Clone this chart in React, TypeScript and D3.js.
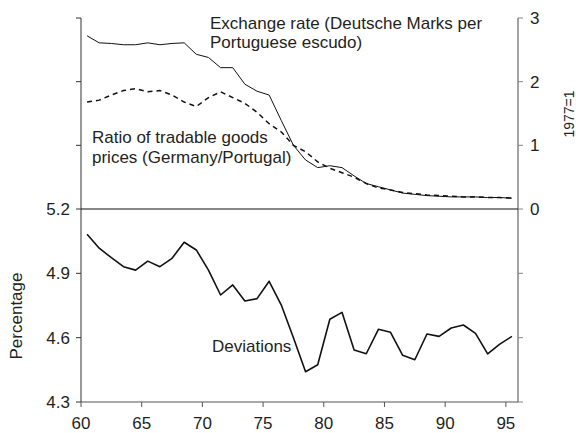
import React from "react";
import * as d3 from "d3";

const years = [60, 61, 62, 63, 64, 65, 66, 67, 68, 69, 70, 71, 72, 73, 74, 75, 76, 77, 78, 79, 80, 81, 82, 83, 84, 85, 86, 87, 88, 89, 90, 91, 92, 93, 94, 95];

const exchangeRate = [2.72, 2.61, 2.6, 2.58, 2.58, 2.61, 2.58, 2.6, 2.61, 2.43, 2.38, 2.22, 2.22, 1.96, 1.85, 1.79, 1.39, 1.0, 0.77, 0.65, 0.68, 0.65, 0.52, 0.4, 0.35, 0.3, 0.25, 0.23, 0.21, 0.2, 0.19, 0.19, 0.19, 0.18, 0.18, 0.17];

const priceRatio = [1.68, 1.71, 1.79, 1.86, 1.89, 1.84, 1.86, 1.79, 1.68, 1.61, 1.75, 1.84, 1.75, 1.66, 1.52, 1.34, 1.21, 1.0, 0.9, 0.74, 0.64, 0.57, 0.5, 0.4, 0.33, 0.3, 0.26, 0.24, 0.22, 0.21, 0.2, 0.19, 0.19, 0.18, 0.18, 0.17];

const deviations = [5.082, 5.017, 4.973, 4.931, 4.915, 4.957, 4.931, 4.97, 5.045, 5.009, 4.915, 4.799, 4.846, 4.771, 4.782, 4.863, 4.752, 4.6, 4.441, 4.474, 4.686, 4.718, 4.542, 4.525, 4.639, 4.625, 4.518, 4.497, 4.617, 4.606, 4.645, 4.659, 4.62, 4.524, 4.57, 4.606];

const xTicks = [60, 65, 70, 75, 80, 85, 90, 95];
const leftTicksTop = [3, 2, 1];
const leftTicksBottom = [5.2, 4.9, 4.6, 4.3];
const leftTickLabelsBottom = ["5.2", "4.9", "4.6", "4.3"];
const rightTicksTop = [3, 2, 1, 0];
const rightTickLabelsTop = ["3", "2", "1", "0"];
const rightTicksBottom = [4.9, 4.6, 4.3];

const FONT = "'Liberation Sans', Arial, Helvetica, sans-serif";

export default function App() {
  const W = 576;
  const H = 433;
  const left = 81;
  const right = 518;
  const x = d3.scaleLinear().domain([60, 96]).range([left, right]);
  const yTop = d3.scaleLinear().domain([0, 3]).range([209, 18]);
  const yBot = d3.scaleLinear().domain([4.3, 5.2]).range([402, 209]);

  const lineTop = d3
    .line<number>()
    .x((_, i) => x(years[i] + 0.5))
    .y((d) => yTop(d));
  const lineBot = d3
    .line<number>()
    .x((_, i) => x(years[i] + 0.5))
    .y((d) => yBot(d));

  const textColor = "#231f20";
  const tickLen = 5;
  const fs = 17;

  return (
    <svg
      width={W}
      height={H}
      style={{ position: "absolute", left: 0, top: 0, background: "#fff" }}
      fontFamily={FONT}
    >
      {/* left axis */}
      <line x1={left} x2={left} y1={yTop(3)} y2={yBot(4.3)} stroke="#333" strokeWidth={1} />
      {leftTicksTop.map((t) => (
        <line key={"lt" + t} x1={left - tickLen} x2={left} y1={yTop(t)} y2={yTop(t)} stroke="#333" />
      ))}
      {leftTicksBottom.map((t, i) => (
        <g key={"lb" + t}>
          <line x1={left - tickLen} x2={left} y1={yBot(t)} y2={yBot(t)} stroke="#333" />
          <text x={left - 11} y={yBot(t)} dy="0.36em" textAnchor="end" fontSize={fs} fill={textColor}>
            {leftTickLabelsBottom[i]}
          </text>
        </g>
      ))}

      {/* right axis */}
      <line x1={right} x2={right} y1={yTop(3)} y2={yBot(4.3)} stroke="#858585" strokeWidth={1.5} />
      {rightTicksTop.map((t, i) => (
        <g key={"rt" + t}>
          <line x1={right} x2={right + tickLen} y1={yTop(t)} y2={yTop(t)} stroke="#858585" />
          <text x={right + 12} y={yTop(t)} dy="0.36em" textAnchor="start" fontSize={fs} fill={textColor}>
            {rightTickLabelsTop[i]}
          </text>
        </g>
      ))}
      {rightTicksBottom.map((t) => (
        <line key={"rb" + t} x1={right} x2={right + tickLen} y1={yBot(t)} y2={yBot(t)} stroke="#858585" />
      ))}

      {/* bottom axis */}
      <line x1={left} x2={right} y1={yBot(4.3)} y2={yBot(4.3)} stroke="#555" strokeWidth={1} />
      {xTicks.map((t) => (
        <g key={"x" + t}>
          <line x1={x(t)} x2={x(t)} y1={yBot(4.3)} y2={yBot(4.3) + tickLen} stroke="#555" />
          <text x={x(t)} y={429} textAnchor="middle" fontSize={fs} fill={textColor}>
            {t}
          </text>
        </g>
      ))}

      {/* divider */}
      <line x1={left} x2={right} y1={yTop(0)} y2={yTop(0)} stroke="#111" strokeWidth={1.2} />

      {/* series */}
      <path d={lineTop(exchangeRate) || ""} fill="none" stroke="#111" strokeWidth={1} />
      <path d={lineTop(priceRatio) || ""} fill="none" stroke="#111" strokeWidth={1.5} strokeDasharray="5,4" />
      <path d={lineBot(deviations) || ""} fill="none" stroke="#111" strokeWidth={1.6} strokeLinejoin="round" />

      {/* annotations */}
      <text x={210} fontSize={fs} fill={textColor}>
        <tspan x={210} y={29}>Exchange rate (Deutsche Marks per</tspan>
        <tspan x={210} y={48}>Portuguese escudo)</tspan>
      </text>
      <text x={92} fontSize={fs} fill={textColor}>
        <tspan x={92} y={143}>Ratio of tradable goods</tspan>
        <tspan x={92} y={162.5}>prices (Germany/Portugal)</tspan>
      </text>
      <text x={212} y={352} fontSize={fs} fill={textColor}>
        Deviations
      </text>
      <text transform="translate(22,316) rotate(-90)" textAnchor="middle" fontSize={fs} fill={textColor}>
        Percentage
      </text>
      <text transform="translate(574,114) rotate(-90)" textAnchor="middle" fontSize={14} fill={textColor}>
        1977=1
      </text>
    </svg>
  );
}
